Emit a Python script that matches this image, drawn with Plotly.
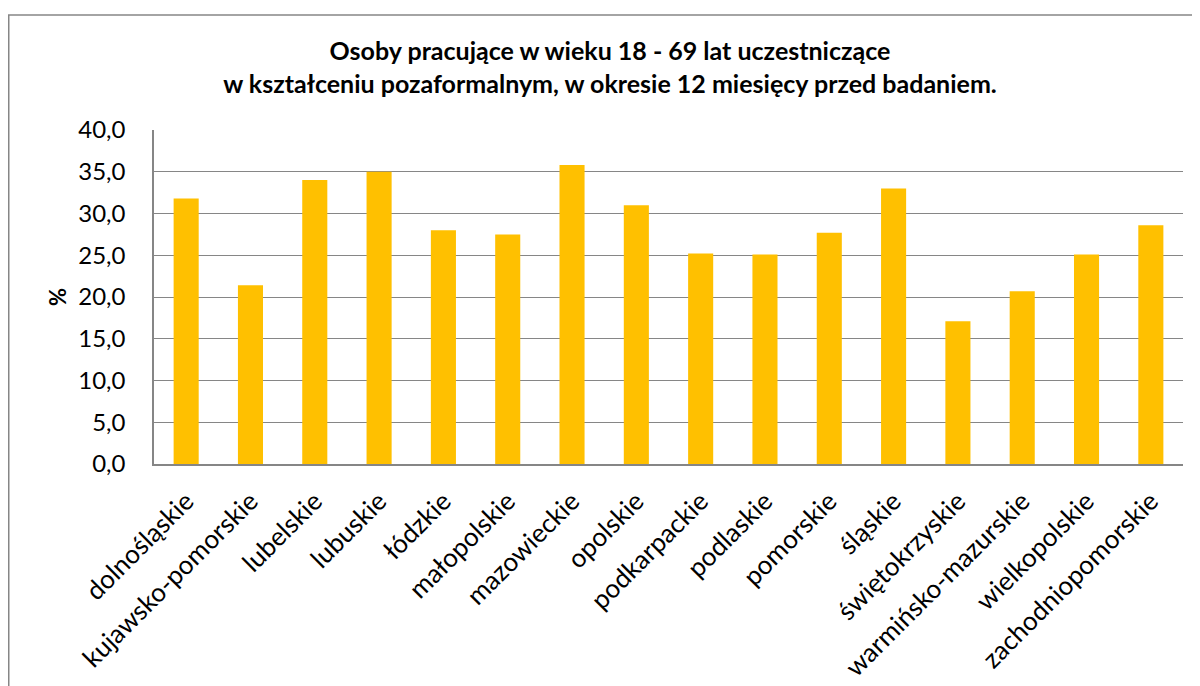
import plotly.graph_objects as go

categories = ["dolnośląskie", "kujawsko-pomorskie", "lubelskie", "lubuskie", "łódzkie",
              "małopolskie", "mazowieckie", "opolskie", "podkarpackie", "podlaskie",
              "pomorskie", "śląskie", "świętokrzyskie", "warmińsko-mazurskie",
              "wielkopolskie", "zachodniopomorskie"]
values = [31.8, 21.4, 34.0, 35.0, 28.0, 27.5, 35.8, 31.0, 25.2, 25.1,
          27.7, 33.0, 17.1, 20.7, 25.1, 28.6]

title_lines = ["Osoby pracujące w wieku 18 - 69 lat uczestniczące",
               "w kształceniu pozaformalnym, w okresie 12 miesięcy przed badaniem."]
y_title = "%"

FONT = "Lato"
W, H = 1200, 686
L, R, T, B = 146, 25, 122, 221
pw, ph = W - L - R, H - T - B

fig = go.Figure(go.Bar(x=categories, y=values, marker=dict(color="#FFC000", line=dict(width=0))))

def px2paper_x(px):
    return (px - L) / pw

def px2paper_y(py):
    return (H - B - py) / ph

fig.update_layout(
    width=W, height=H,
    margin=dict(l=L, r=R, t=T, b=B),
    paper_bgcolor="white", plot_bgcolor="white",
    separators=", ",
    bargap=0.61,
    showlegend=False,
    font=dict(family=FONT, color="black"),
    title=dict(text="<br>".join(title_lines), x=602 / W, xanchor="center",
               y=1 - 52 / H, yanchor="middle",
               font=dict(family=FONT, size=25, color="black", weight="bold")),
    xaxis=dict(showline=True, linecolor="#868686", linewidth=1.5, tickangle=-45,
               tickfont=dict(family=FONT, size=26, color="black"), ticks="",
               ticklabelstandoff=10),
    yaxis=dict(range=[0, 40], dtick=5, tickformat=".1f", showgrid=True,
               gridcolor="#868686", gridwidth=1.3, showline=True, linecolor="#868686",
               linewidth=1.5, zeroline=False, ticks="",
               tickfont=dict(family=FONT, size=24, color="black"),
               ticklabelstandoff=22,
               title=dict(text="<b>" + y_title + "</b>", font=dict(family=FONT, size=22, color="black"),
                          standoff=6)),
    shapes=[dict(type="rect", xref="paper", yref="paper",
                 x0=px2paper_x(0.75), x1=px2paper_x(1210), y0=px2paper_y(700), y1=px2paper_y(4),
                 line=dict(color="#868686", width=1.5), fillcolor="rgba(0,0,0,0)", layer="below")],
)

fig.write_html("out.html")
